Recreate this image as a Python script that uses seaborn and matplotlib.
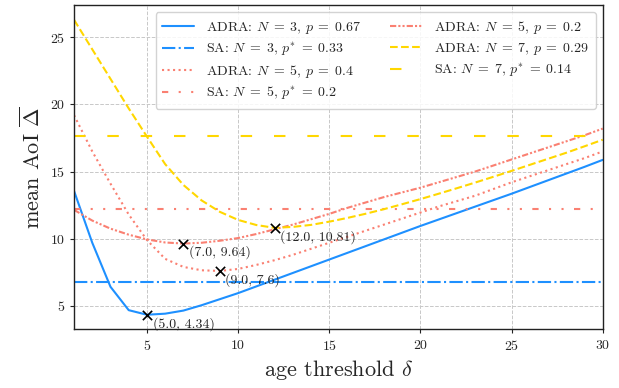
import numpy as np
import pandas as pd
import matplotlib
matplotlib.use("Agg")
import matplotlib.pyplot as plt
import seaborn as sns

# ---------------- data ----------------
delta = list(range(1, 31))

adra_n3_p067 = [13.56, 9.7, 6.42, 4.68, 4.34, 4.42, 4.65, 5.05, 5.5, 5.95,
                6.45, 6.95, 7.45, 7.95, 8.45, 8.95, 9.45, 9.95, 10.45, 10.95,
                11.43, 11.91, 12.39, 12.87, 13.35, 13.85, 14.35, 14.85, 15.35, 15.87]
sa_n3 = 6.75

adra_n5_p04 = [19.2, 16.5, 14.1, 11.8, 9.9, 8.5, 7.9, 7.65, 7.6, 7.75,
               8.05, 8.4, 8.8, 9.25, 9.7, 10.15, 10.6, 11.05, 11.5, 11.95,
               12.4, 12.8, 13.2, 13.7, 14.2, 14.65, 15.1, 15.55, 16.0, 16.5]
sa_n5 = 12.2

adra_n5_p02 = [12.15, 11.35, 10.75, 10.3, 9.95, 9.72, 9.64, 9.7, 9.85, 10.05,
               10.35, 10.7, 11.05, 11.45, 11.85, 12.3, 12.7, 13.1, 13.45, 13.8,
               14.2, 14.6, 15.0, 15.45, 15.9, 16.35, 16.8, 17.25, 17.7, 18.2]

adra_n7_p029 = [26.3, 24.1, 21.9, 19.7, 17.6, 15.55, 14.0, 12.85, 12.0, 11.4,
                11.02, 10.81, 10.88, 11.03, 11.27, 11.55, 11.86, 12.2, 12.57, 12.95,
                13.35, 13.76, 14.18, 14.61, 15.05, 15.5, 15.95, 16.4, 16.88, 17.37]
sa_n7 = 17.66

labels = [
    r"ADRA: $N\;=\;3$, $p\;=\;0.67$",
    r"SA: $N\;=\;3$, $p^{*}\;=\;0.33$",
    r"ADRA: $N\;=\;5$, $p\;=\;0.4$",
    r"SA: $N\;=\;5$, $p^{*}\;=\;0.2$",
    r"ADRA: $N\;=\;5$, $p\;=\;0.2$",
    r"ADRA: $N\;=\;7$, $p\;=\;0.29$",
    r"SA: $N\;=\;7$, $p^{*}\;=\;0.14$",
]

opt_x = [5.0, 7.0, 9.0, 12.0]
opt_y = [4.34, 9.64, 7.6, 10.81]

# ---------------- style ----------------
sns.set_style("ticks")
plt.rcParams.update({
    "font.family": "serif",
    "font.serif": ["cmr10"],
    "mathtext.fontset": "cm",
    "axes.formatter.use_mathtext": True,
    "axes.unicode_minus": False,
    "font.size": 10,
})

blue = "#1E90FF"
salmon = "#FA8072"
gold = "#FFD700"

fig = plt.figure(figsize=(6.19, 3.88), dpi=100)
ax = fig.add_axes([0.1196, 0.1508, 0.9737 - 0.1196, 0.987 - 0.1508])

lw = 1.5
series = [
    (adra_n3_p067, blue, "-", labels[0]),
    ([sa_n3] * len(delta), blue, "-.", labels[1]),
    (adra_n5_p04, salmon, ":", labels[2]),
    ([sa_n5] * len(delta), salmon, (0, (3, 5, 1, 5, 1, 5)), labels[3]),
    (adra_n5_p02, salmon, (0, (3, 1, 1, 1, 1, 1)), labels[4]),
    (adra_n7_p029, gold, "--", labels[5]),
    ([sa_n7] * len(delta), gold, (0, (5.5, 10.5)), labels[6]),
]
for vals, col, ls, lab in series:
    df = pd.DataFrame({"delta": delta, "aoi": vals})
    sns.lineplot(data=df, x="delta", y="aoi", ax=ax, color=col,
                 linestyle=ls, linewidth=lw, label=lab)

opt_df = pd.DataFrame({"x": opt_x, "y": opt_y})
sns.scatterplot(data=opt_df, x="x", y="y", ax=ax, marker="x", color="black",
                s=45, linewidth=1.2, zorder=5, legend=False)
for xv, yv in zip(opt_x, opt_y):
    ax.annotate(f"({xv:.1f}, {yv})", xy=(xv, yv), xytext=(4, -1.5),
                textcoords="offset points", ha="left", va="top", fontsize=10)

ax.set_xlim(1, 30)
ax.margins(y=0.05)
ax.set_xticks([5, 10, 15, 20, 25, 30])
ax.set_yticks([5, 10, 15, 20, 25])
ax.grid(True, linestyle="--", color="#c8c8c8", linewidth=0.7)
ax.set_axisbelow(True)
for sp in ax.spines.values():
    sp.set_color("#222222")
    sp.set_linewidth(1.0)
    sp.set_visible(True)
ax.tick_params(labelsize=10, length=3, width=0.8, color="#222222")

ax.set_xlabel(r"age threshold $\delta$", fontsize=16, labelpad=4)
ax.set_ylabel(r"mean AoI $\overline{\Delta}$", fontsize=16, labelpad=4)

leg = ax.legend(loc="upper right", ncol=2, fontsize=10, frameon=True,
                framealpha=0.85, edgecolor="#cccccc", fancybox=True,
                columnspacing=2.1, handlelength=2.3, handletextpad=0.85,
                borderpad=0.5, labelspacing=0.35)

fig.savefig("out.png", dpi=100)
